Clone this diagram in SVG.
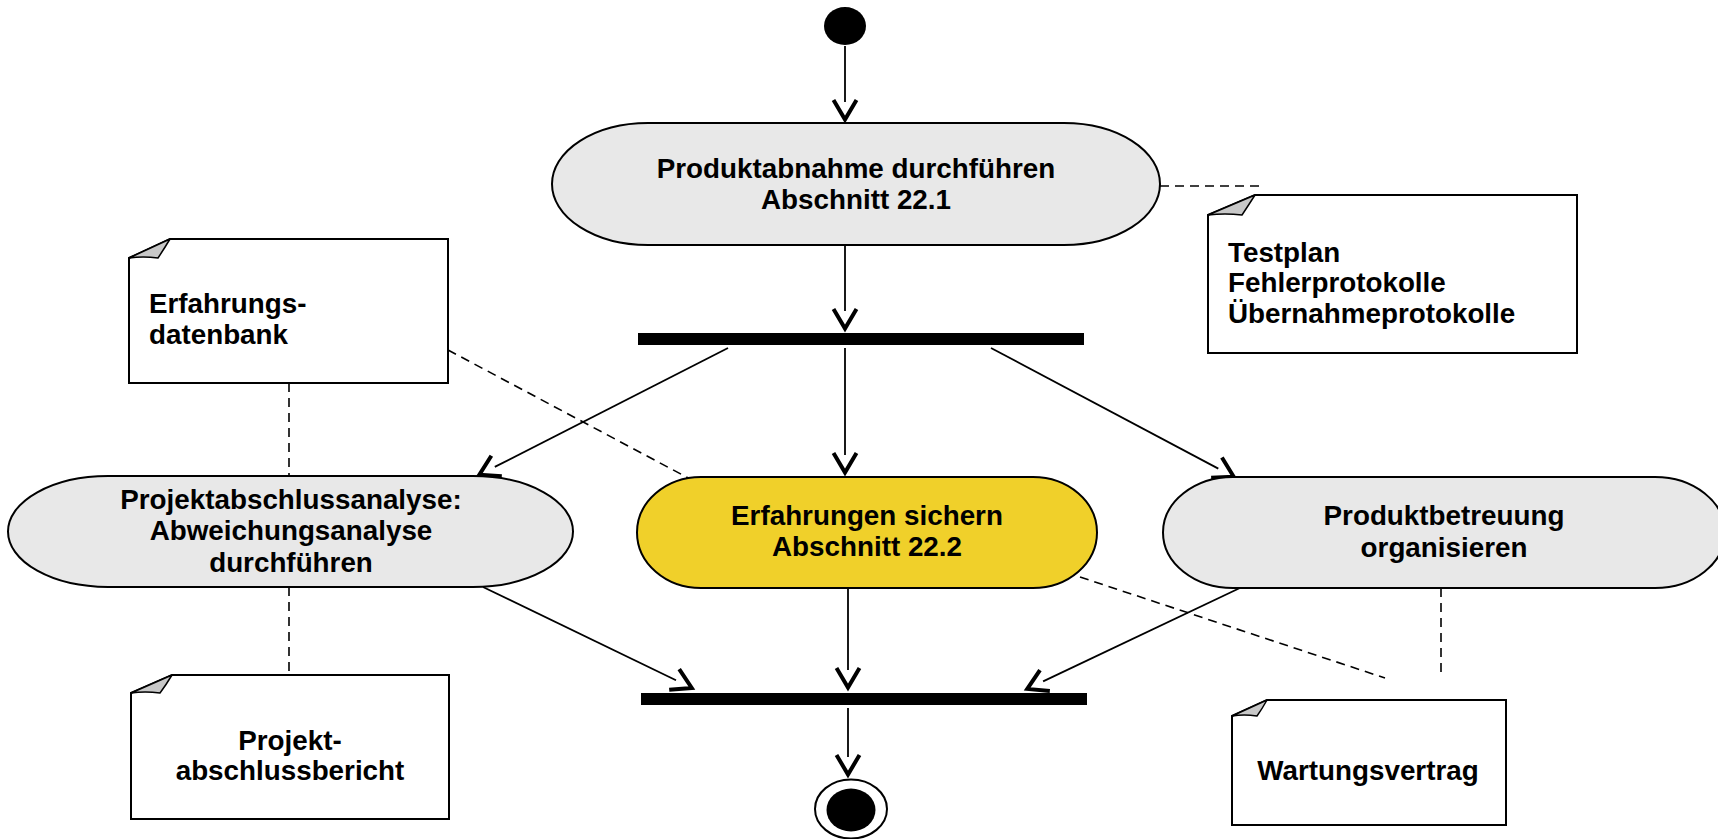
<svg xmlns="http://www.w3.org/2000/svg" width="1718" height="839" viewBox="0 0 1718 839">
<style>
text{font-family:"Liberation Sans",Arial,sans-serif;font-weight:bold;font-size:27.8px;fill:#000}
.act{fill:#e8e8e8;stroke:#000;stroke-width:2}
.yel{fill:#f0d02a;stroke:#000;stroke-width:2}
.note{fill:#fff;stroke:#000;stroke-width:2}
.fold{fill:#c8c8c8;stroke:#000;stroke-width:1.5;stroke-linejoin:round}
.flow{stroke:#000;stroke-width:1.8;fill:none;marker-end:url(#arr)}
.dash{stroke:#000;stroke-width:1.6;fill:none;stroke-dasharray:9 6}
.bar{fill:#000}
.c{text-anchor:middle}
</style>
<defs>
<marker id="arr" markerUnits="userSpaceOnUse" markerWidth="40" markerHeight="40" viewBox="-30 -20 40 40" refX="-20" refY="0" orient="auto" overflow="visible">
<path d="M-22,-11.5 L-2.5,0 L-22,11.5" fill="none" stroke="#000" stroke-width="4"/>
</marker>
</defs>
<rect width="1718" height="839" fill="#fff"/>

<g id="connectors">
<line class="flow" x1="845" y1="46" x2="845" y2="102"/>
<line class="flow" x1="845" y1="246" x2="845" y2="311"/>
<line class="flow" x1="728" y1="348" x2="494.8" y2="466.9"/>
<line class="flow" x1="845" y1="348" x2="845" y2="455"/>
<line class="flow" x1="991" y1="348" x2="1218.3" y2="468.6"/>
<line class="flow" x1="483" y1="587" x2="676" y2="680.3"/>
<line class="flow" x1="848" y1="588" x2="848" y2="670"/>
<line class="flow" x1="1242" y1="587" x2="1043.1" y2="681.4"/>
<line class="flow" x1="848" y1="708" x2="848" y2="757"/>
<line class="dash" x1="1160" y1="186" x2="1263" y2="186"/>
<line class="dash" x1="289" y1="383" x2="289" y2="476"/>
<line class="dash" x1="448" y1="350" x2="692" y2="480"/>
<line class="dash" x1="1080" y1="577" x2="1385" y2="678"/>
<line class="dash" x1="1441" y1="588" x2="1441" y2="676"/>
<line class="dash" x1="289" y1="587" x2="289" y2="671"/>
</g>

<g id="start">
<ellipse cx="845" cy="26" rx="21" ry="19" fill="#000"/>
</g>

<g id="produktabnahme">
<rect class="act" x="552" y="123" width="608" height="122" rx="96" ry="61"/>
<text class="c" x="856" y="178">Produktabnahme durchführen</text>
<text class="c" x="856" y="209">Abschnitt 22.1</text>
</g>

<g id="testplan">
<path class="note" d="M1208,215 L1255,195 L1577,195 L1577,353 L1208,353 Z"/>
<path class="fold" d="M1208,215 L1255,195 Q1248,206 1242,215 Q1225,213 1208,215 Z"/>
<text x="1228" y="262">Testplan</text>
<text x="1228" y="292">Fehlerprotokolle</text>
<text x="1228" y="323">Übernahmeprotokolle</text>
</g>

<g id="fork1">
<rect class="bar" x="638" y="333" width="446" height="12"/>
</g>

<g id="erfahrungsdatenbank">
<path class="note" d="M129,258 L170,239 L448,239 L448,383 L129,383 Z"/>
<path class="fold" d="M129,258 L170,239 Q164,249 158,258 Q143,256 129,258 Z"/>
<text x="149" y="313">Erfahrungs-</text>
<text x="149" y="344">datenbank</text>
</g>

<g id="projektabschlussanalyse">
<rect class="act" x="8" y="476" width="565" height="111" rx="100" ry="55.5"/>
<text class="c" x="291" y="509">Projektabschlussanalyse:</text>
<text class="c" x="291" y="540">Abweichungsanalyse</text>
<text class="c" x="291" y="572">durchführen</text>
</g>

<g id="erfahrungen">
<rect class="yel" x="637" y="477" width="460" height="111" rx="64" ry="55.5"/>
<text class="c" x="867" y="525">Erfahrungen sichern</text>
<text class="c" x="867" y="556">Abschnitt 22.2</text>
</g>

<g id="produktbetreuung">
<rect class="act" x="1163" y="477" width="562" height="111" rx="70" ry="55.5"/>
<text class="c" x="1444" y="525">Produktbetreuung</text>
<text class="c" x="1444" y="557">organisieren</text>
</g>

<g id="join">
<rect class="bar" x="641" y="693" width="446" height="12"/>
</g>

<g id="projektabschlussbericht">
<path class="note" d="M131,693 L172,675 L449,675 L449,819 L131,819 Z"/>
<path class="fold" d="M131,693 L172,675 Q166,685 160,693 Q145,691 131,693 Z"/>
<text class="c" x="290" y="750">Projekt-</text>
<text class="c" x="290" y="780">abschlussbericht</text>
</g>

<g id="wartungsvertrag">
<path class="note" d="M1232,716 L1267,700 L1506,700 L1506,825 L1232,825 Z"/>
<path class="fold" d="M1232,716 L1267,700 Q1262,709 1257,716 Q1244,714 1232,716 Z"/>
<text class="c" x="1368" y="780">Wartungsvertrag</text>
</g>

<g id="end">
<ellipse cx="851" cy="809" rx="36" ry="29.5" fill="#fff" stroke="#000" stroke-width="2"/>
<ellipse cx="851" cy="810" rx="24.5" ry="21.5" fill="#000"/>
</g>
</svg>
